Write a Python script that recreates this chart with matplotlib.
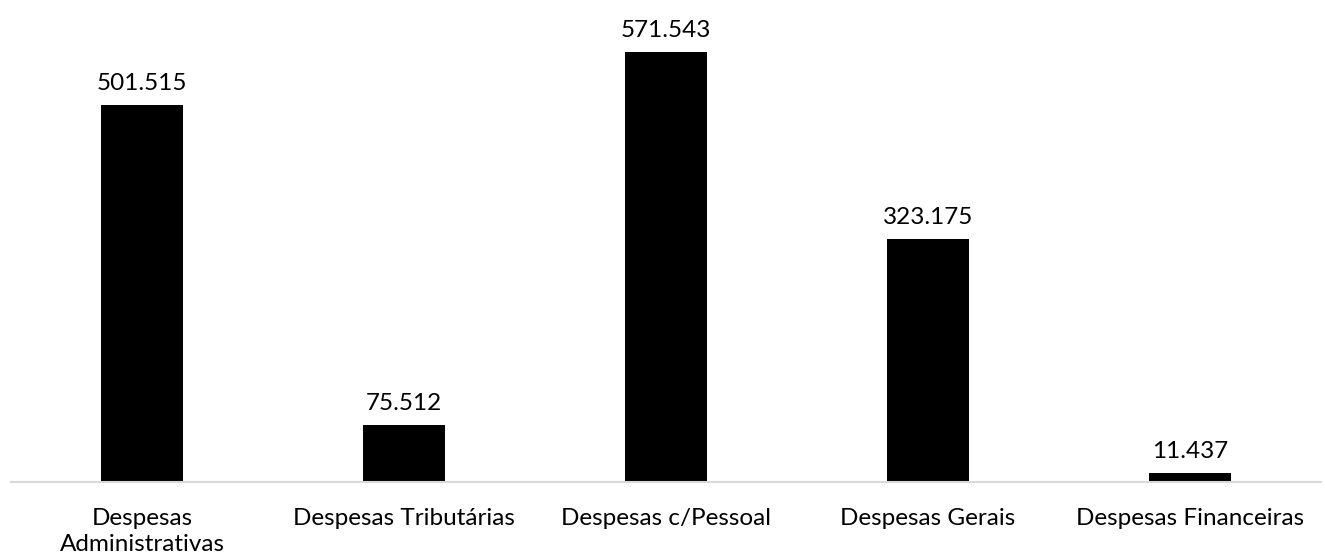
import matplotlib.pyplot as plt

SAVE_PATH = "out.png"

categories = [
    "Despesas\nAdministrativas",
    "Despesas Tributárias",
    "Despesas c/Pessoal",
    "Despesas Gerais",
    "Despesas Financeiras",
]
values = [501.515, 75.512, 571.543, 323.175, 11.437]
value_labels = ["501.515", "75.512", "571.543", "323.175", "11.437"]


def draw_graph():
    plt.rcParams["font.family"] = ["Lato", "DejaVu Sans"]

    fig = plt.figure(figsize=(13.25, 5.6), dpi=100)
    ax = fig.add_axes([11 / 1325, 78 / 560, 1310 / 1325, 451 / 560])

    x = range(len(categories))
    bars = ax.bar(x, values, width=0.31, color="black")

    #  Value labels above bars
    for bar, label in zip(bars, value_labels):
        ax.annotate(
            label,
            (bar.get_x() + bar.get_width() / 2, bar.get_height()),
            xytext=(0, 8),
            textcoords="offset points",
            ha="center",
            va="bottom",
            fontsize=17.5,
        )

    ax.set_xlim(-0.5, len(categories) - 0.5)
    ax.set_ylim(0, 600)
    ax.set_xticks(list(x))
    ax.set_xticklabels(categories, fontsize=17.5, linespacing=1.3)
    ax.tick_params(axis="x", length=0, pad=19)
    ax.set_yticks([])

    for side in ["top", "right", "left"]:
        ax.spines[side].set_visible(False)
    ax.spines["bottom"].set_color("#d9d9d9")
    ax.spines["bottom"].set_linewidth(1.5)

    fig.savefig(SAVE_PATH, dpi=100, facecolor="white")


if __name__ == "__main__":
    draw_graph()
